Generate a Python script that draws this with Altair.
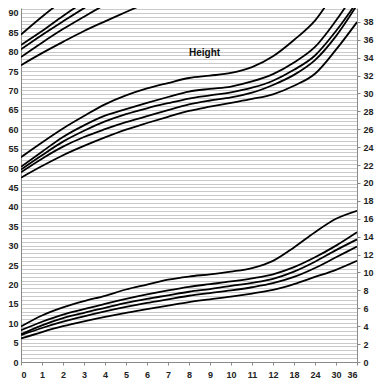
import altair as alt
import pandas as pd

# x categories (equally spaced positions)
month_labels = ['0', '1', '2', '3', '4', '5', '6', '7', '8', '9', '10', '11', '12', '18', '24', '30', '36']

# Height curves (cm, left axis)
height_p97 = [52.8, 56.6, 60.2, 63.4, 66.4, 68.7, 70.5, 71.9, 73.2, 73.8, 74.5, 76.0, 78.8, 83.0, 88.0, 95.5, 101.0]
height_p75 = [50.3, 54.2, 58.0, 61.0, 63.5, 65.2, 66.8, 68.3, 69.7, 70.4, 71.0, 72.3, 74.2, 77.2, 81.2, 88.0, 96.0]
height_p50 = [49.6, 53.3, 56.8, 59.6, 62.0, 63.9, 65.4, 66.7, 67.9, 68.7, 69.5, 70.7, 72.5, 75.3, 79.0, 85.3, 92.8]
height_p25 = [48.9, 52.4, 55.5, 58.0, 60.0, 61.8, 63.4, 64.9, 66.4, 67.4, 68.2, 69.4, 71.4, 74.0, 77.8, 84.0, 92.0]
height_p3 = [47.5, 50.5, 53.3, 55.7, 57.9, 59.9, 61.6, 63.2, 64.7, 65.8, 66.8, 67.8, 69.0, 71.2, 74.3, 80.5, 87.6]

# Upper-left height curves (cm, left axis)
upper_1 = [84.4, 89.0, 93.2, 97.0]
upper_2 = [81.7, 85.3, 89.2, 92.8, 96.0]
upper_3 = [80.6, 84.3, 87.8, 91.2, 94.4]
upper_4 = [78.6, 82.3, 85.8, 89.0, 92.1, 95.0]
upper_5 = [76.5, 79.6, 82.5, 85.3, 87.8, 90.2, 92.6, 95.0]

# Weight curves (kg, right axis)
weight_p97 = [3.97, 5.2, 6.1, 6.8, 7.4, 8.1, 8.65, 9.2, 9.55, 9.8, 10.1, 10.5, 11.3, 12.8, 14.5, 16.0, 16.9]
weight_p75 = [3.55, 4.5, 5.3, 5.9, 6.5, 7.05, 7.55, 8.0, 8.4, 8.7, 9.0, 9.35, 9.8, 10.6, 11.7, 13.0, 14.5]
weight_p50 = [3.1, 4.1, 4.9, 5.5, 6.05, 6.6, 7.05, 7.45, 7.85, 8.15, 8.5, 8.85, 9.3, 10.1, 11.2, 12.5, 13.7]
weight_p25 = [3.0, 3.8, 4.5, 5.1, 5.65, 6.15, 6.6, 7.0, 7.4, 7.7, 8.0, 8.35, 8.8, 9.5, 10.5, 11.7, 12.9]
weight_p3 = [2.63, 3.35, 4.0, 4.55, 5.05, 5.5, 5.9, 6.3, 6.7, 7.0, 7.3, 7.65, 8.05, 8.7, 9.5, 10.3, 11.3]

annotation_text = ['Height']
annotation_x = [8.74]
annotation_y = [79.7]

left_ticks = list(range(0, 92))
right_ticks = list(range(0, 41, 2))


def long_df(series):
    rows = []
    for name, vals in series.items():
        for i, v in enumerate(vals):
            rows.append({'series': name, 'idx': i, 'value': v})
    return pd.DataFrame(rows)


h_df = long_df({
    'h97': height_p97, 'h75': height_p75, 'h50': height_p50, 'h25': height_p25, 'h3': height_p3,
    'u1': upper_1, 'u2': upper_2, 'u3': upper_3, 'u4': upper_4, 'u5': upper_5,
})
w_df = long_df({
    'w97': weight_p97, 'w75': weight_p75, 'w50': weight_p50, 'w25': weight_p25, 'w3': weight_p3,
})
t_df = pd.DataFrame({'text': annotation_text, 'idx': annotation_x, 'value': annotation_y})

label_expr = '[' + ','.join("'" + s + "'" for s in month_labels) + '][datum.value]'

x_axis = alt.Axis(values=list(range(17)), labelExpr=label_expr, title=None,
                  grid=False, tickSize=3, labelPadding=5, domainColor='#8a8a8a',
                  tickColor='#8a8a8a')
x_scale = alt.Scale(domain=[0, 16], nice=False, zero=False)


def x_enc():
    return alt.X('idx:Q', scale=x_scale, axis=x_axis)


left_scale = alt.Scale(domain=[0, 91.24], nice=False, zero=True)
right_scale = alt.Scale(domain=[0, 39.55], nice=False, zero=True)

left_axis = alt.Axis(values=left_ticks, title=None, grid=True, gridColor='#c9c9c9', gridWidth=1.2,
                     ticks=False, labelPadding=3, domainColor='#8a8a8a',
                     labelExpr="datum.value % 5 == 0 ? datum.label : ''")

height_lines = alt.Chart(h_df).mark_line(color='black', strokeWidth=1.8, interpolate='monotone', clip=True).encode(
    x=x_enc(),
    y=alt.Y('value:Q', scale=left_scale, axis=left_axis),
    detail='series:N',
)

height_text = alt.Chart(t_df).mark_text(font='Liberation Sans', fontSize=10, fontWeight='bold', color='#111').encode(
    x=x_enc(),
    y=alt.Y('value:Q', scale=left_scale, axis=left_axis),
    text='text:N',
)

weight_lines = alt.Chart(w_df).mark_line(color='black', strokeWidth=1.8, interpolate='monotone', clip=True).encode(
    x=x_enc(),
    y=alt.Y('value:Q', scale=right_scale,
            axis=alt.Axis(orient='right', values=right_ticks, title=None, grid=False, tickSize=3,
                          labelPadding=3, domainColor='#8a8a8a', tickColor='#8a8a8a')),
    detail='series:N',
)

left_layer = alt.layer(height_lines, height_text)

chart = alt.layer(left_layer, weight_lines).resolve_scale(y='independent').properties(
    width=336, height=354,
    autosize=alt.AutoSizeParams(type='none'),
    padding={'left': 13, 'top': 0, 'right': 19, 'bottom': 21},
    background='white',
).configure_view(stroke=None).configure_axis(
    labelFont='Liberation Sans', labelFontSize=9, labelFontWeight='bold', labelColor='#222',
)

chart.save('out.html', embed_options={'renderer': 'svg', 'actions': False})
